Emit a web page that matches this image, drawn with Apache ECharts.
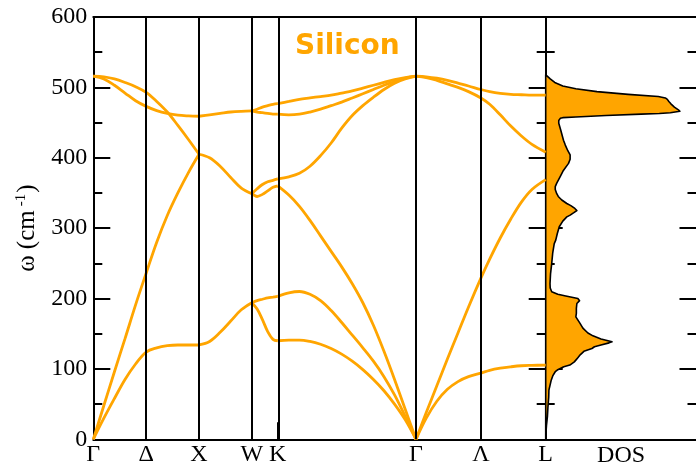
<!DOCTYPE html>
<html>
<head>
<meta charset="utf-8">
<script src="https://cdn.jsdelivr.net/npm/echarts@6/dist/echarts.min.js"></script>
<style>
  html, body { margin: 0; padding: 0; background: #fff; }
  #chart { width: 696px; height: 467px; }
</style>
</head>
<body>
<div id="chart"></div>
<script>
// High-symmetry points along the path (path coordinate) and their labels
const kPos = [0, 0.5, 1.0, 1.5, 1.745, 3.053, 3.667, 4.28];
const kLabels = ['Γ', 'Δ', 'X', 'W', 'K', 'Γ', 'Λ', 'L'];
const kLines = [0.5, 1.0, 1.5, 1.745, 3.053, 3.667];

// Frequency axis ticks (cm^-1)
const yTicks = [0, 100, 200, 300, 400, 500, 600];

// Γ → X
const gxK  = [0, 0.1, 0.2, 0.3, 0.4, 0.5, 0.6, 0.7, 0.8, 0.9, 1.0];
const gxTA = [0, 30, 58, 85, 107, 124, 130, 133, 134, 134, 134];
const gxLA = [0, 48, 96, 143, 191, 236, 280, 318, 350, 379, 405];
const gxLO = [516, 515, 512, 507, 501, 493, 480, 465, 446, 426, 405];
const gxTO = [516, 512, 503, 492, 481, 473, 467, 463, 460.5, 459.5, 459];

// X → W
const xwK   = [1.0, 1.1, 1.2, 1.3, 1.4, 1.5];
const xwLow = [134, 139, 152, 168, 184, 194];
const xwMid = [405, 400, 388, 372, 357, 349];
const xwTop = [459, 461, 463, 465, 466, 466.5];

// W → K
const wkK = [1.5, 1.55, 1.6, 1.65, 1.7, 1.745];
const wk1 = [194, 185, 170, 153, 142, 140];
const wk2 = [194, 197, 199, 201, 202, 203];
const wk3 = [349, 345, 348, 353, 358, 360];
const wk4 = [349, 356, 362, 366, 368, 370];
const wk5 = [466.5, 465, 464, 463, 462, 462];
const wk6 = [466.5, 469, 472, 474, 476, 477];

// K → Γ
const kgK = [1.745, 1.85, 1.95, 2.05, 2.15, 2.25, 2.35, 2.45, 2.55, 2.65, 2.75, 2.85, 2.95, 3.053];
const kg1 = [140, 141, 141, 139, 135, 129, 121, 111, 99, 85, 69, 50, 28, 0];
const kg2 = [203, 208, 210, 206, 197, 183, 166, 148, 130, 111, 89, 63, 33, 0];
const kg3 = [360, 347, 331, 311, 289, 267, 245, 221, 194, 162, 125, 85, 43, 0];
const kg4 = [370, 373, 378, 388, 403, 421, 442, 460, 474, 486, 497, 506, 512, 516];
const kg5 = [462, 461, 462, 465, 469, 474, 479, 485, 491, 497, 503, 508, 513, 516];
const kg6 = [477, 480, 483, 485, 487, 489, 492, 495, 499, 503, 507, 511, 514, 516];

// Γ → L
const glK  = [3.053, 3.15, 3.25, 3.35, 3.45, 3.55, 3.667, 3.75, 3.85, 3.95, 4.05, 4.15, 4.28];
const glTA = [0, 30, 54, 71, 82, 89, 94, 98, 101, 103, 104.5, 105, 105.5];
const glLA = [0, 38, 76, 114, 151, 188, 229, 256, 286, 313, 337, 355, 369];
const glLO = [516, 514, 510, 505, 500, 494, 485, 476, 461, 445, 431, 419, 408];
const glTO = [516, 515, 513, 510, 506, 502, 497, 494, 491.5, 490, 489.5, 489, 489];

// Phonon density of states (arbitrary units) versus frequency
const dosOmega = [0, 10, 20, 32, 45, 60, 70, 84, 90, 96, 98.4, 103, 105.5, 110, 116, 120, 125, 129, 131.5, 134,
  137, 138.6, 140, 142.5, 147, 151, 158, 165, 174, 179, 186, 193, 197, 200, 203.5, 206, 209.6, 215, 221, 235,
  250, 265, 278, 283, 292, 302, 310, 316, 318.5, 322, 325, 328, 332, 335, 340, 345, 349, 355, 359, 364,
  373, 382, 392, 398, 404, 410, 418, 425, 439, 449, 453, 456, 457, 458, 460, 462, 463, 464, 466, 468,
  472, 477, 480, 483, 485, 487, 490, 494, 498, 502, 507, 512, 516, 518];
const dosValue = [0, 0.3, 0.8, 1.7, 2.2, 3.0, 3.2, 5.5, 7, 9.5, 11.5, 18, 24, 28.5, 32, 34.3, 38, 46, 48.5, 55,
  63, 66, 62, 55, 47, 42, 37, 34, 30, 30.5, 30.5, 31, 33.7, 32, 20, 12, 6, 4.5, 4.3, 4.8,
  6, 7, 8.5, 10, 11.5, 13.5, 17, 21, 24.3, 28, 31, 29, 25, 21, 16, 12.5, 11, 9.5, 9.5, 11,
  14.3, 17.6, 22.7, 24.3, 24.3, 22, 19.5, 17.7, 15, 13, 13, 14.5, 17, 30, 60, 95, 113, 124, 133.5, 132,
  128, 124.3, 122.5, 121, 119, 112, 82, 51, 30, 17, 9, 4.5, 1.5, 0];
const dosMax = 150;

const branches = [
  [gxK, gxTA], [gxK, gxLA], [gxK, gxLO], [gxK, gxTO],
  [xwK, xwLow], [xwK, xwMid], [xwK, xwTop],
  [wkK, wk1], [wkK, wk2], [wkK, wk3], [wkK, wk4], [wkK, wk5], [wkK, wk6],
  [kgK, kg1], [kgK, kg2], [kgK, kg3], [kgK, kg4], [kgK, kg5], [kgK, kg6],
  [glK, glTA], [glK, glLA], [glK, glLO], [glK, glTO]
];

const ORANGE = '#FFA500';
const BLACK = '#000';
const SERIF = 'Liberation Serif';

const frameTop = 17, frameHeight = 422.3;
const bandLeft = 93.3, bandWidth = 452.4;
const dosLeft = bandLeft + bandWidth, dosWidth = 150.8;

const frameLine = { show: true, onZero: false, lineStyle: { color: BLACK, width: 2 } };
const noLabel = { show: false };
const noSplit = { show: false };

function sideAxis(grid, position) {
  return {
    gridIndex: grid, type: 'value', position: position,
    min: yTicks[0], max: yTicks[yTicks.length - 1], interval: 100,
    axisLine: frameLine,
    axisTick: { show: true, inside: true, length: 17, lineStyle: { color: BLACK, width: 2 } },
    minorTick: { show: true, splitNumber: 2, length: 9, lineStyle: { color: BLACK, width: 2 } },
    axisLabel: noLabel, splitLine: noSplit
  };
}

const leftAxis = sideAxis(0, 'left');
leftAxis.axisLabel = { show: true, margin: 6, fontFamily: SERIF, fontSize: 24, color: BLACK };
leftAxis.name = '{a|ω (cm}{sup|-1}{a|)}';
leftAxis.nameLocation = 'middle';
leftAxis.nameRotate = 90;
leftAxis.nameGap = 49;
leftAxis.nameTextStyle = {
  rich: {
    a: { fontFamily: SERIF, fontSize: 25, color: BLACK },
    sup: { fontFamily: SERIF, fontSize: 15, color: BLACK, verticalAlign: 'top', padding: [0, 1, 14, 4] }
  }
};

const bandSeries = branches.map(([k, w]) => ({
  type: 'line', xAxisIndex: 0, yAxisIndex: 0,
  data: k.map((x, i) => [x, w[i]]),
  showSymbol: false, smooth: 0.35, silent: true,
  lineStyle: { color: ORANGE, width: 2.8 }, z: 4
}));

// symmetry-point guide lines
bandSeries.push({
  type: 'line', xAxisIndex: 0, yAxisIndex: 0, data: [], silent: true, z: 2,
  markLine: {
    silent: true, symbol: ['none', 'none'], label: { show: false },
    lineStyle: { color: BLACK, width: 2, type: 'solid' },
    data: kLines.map(x => ({ xAxis: x }))
  }
});

const dosSeries = {
  type: 'custom', xAxisIndex: 1, yAxisIndex: 2, z: 3, silent: true,
  data: [[0, 0]],
  renderItem: function (params, api) {
    const pts = [api.coord([0, dosOmega[0]])];
    dosOmega.forEach((w, i) => pts.push(api.coord([dosValue[i], w])));
    pts.push(api.coord([0, dosOmega[dosOmega.length - 1]]));
    return {
      type: 'polygon',
      shape: { points: pts },
      style: { fill: ORANGE, stroke: BLACK, lineWidth: 1.6, lineJoin: 'round' }
    };
  }
};

const chart = echarts.init(document.getElementById('chart'));
chart.setOption({
  animation: false,
  backgroundColor: '#fff',
  title: {
    text: 'Silicon', left: 295, top: 33, padding: 0,
    textStyle: { color: ORANGE, fontFamily: 'DejaVu Sans', fontWeight: 'bold', fontSize: 28 }
  },
  grid: [
    { left: bandLeft, top: frameTop, width: bandWidth, height: frameHeight, outerBoundsMode: 'none', containLabel: false },
    { left: dosLeft, top: frameTop, width: dosWidth, height: frameHeight, outerBoundsMode: 'none', containLabel: false }
  ],
  xAxis: [
    {
      gridIndex: 0, type: 'value', position: 'bottom', min: kPos[0], max: kPos[kPos.length - 1],
      axisLine: frameLine,
      axisTick: { show: true, inside: true, length: 17, customValues: kPos, lineStyle: { color: BLACK, width: 2 } },
      axisLabel: {
        show: true, customValues: kPos, margin: 3, fontFamily: SERIF, fontSize: 24, color: BLACK,
        formatter: v => kLabels[kPos.indexOf(v)]
      },
      splitLine: noSplit
    },
    {
      gridIndex: 1, type: 'value', position: 'bottom', min: 0, max: dosMax,
      axisLine: frameLine, axisTick: { show: false }, axisLabel: noLabel, splitLine: noSplit,
      name: 'DOS', nameLocation: 'middle', nameGap: 4,
      nameTextStyle: { fontFamily: SERIF, fontSize: 24, color: BLACK, verticalAlign: 'top' }
    },
    { gridIndex: 0, type: 'value', position: 'top', min: kPos[0], max: kPos[kPos.length - 1],
      axisLine: frameLine, axisTick: { show: false }, axisLabel: noLabel, splitLine: noSplit },
    { gridIndex: 1, type: 'value', position: 'top', min: 0, max: dosMax,
      axisLine: frameLine, axisTick: { show: false }, axisLabel: noLabel, splitLine: noSplit }
  ],
  yAxis: [leftAxis, sideAxis(0, 'right'), sideAxis(1, 'left'), sideAxis(1, 'right')],
  series: bandSeries.concat([dosSeries])
});
</script>
</body>
</html>
